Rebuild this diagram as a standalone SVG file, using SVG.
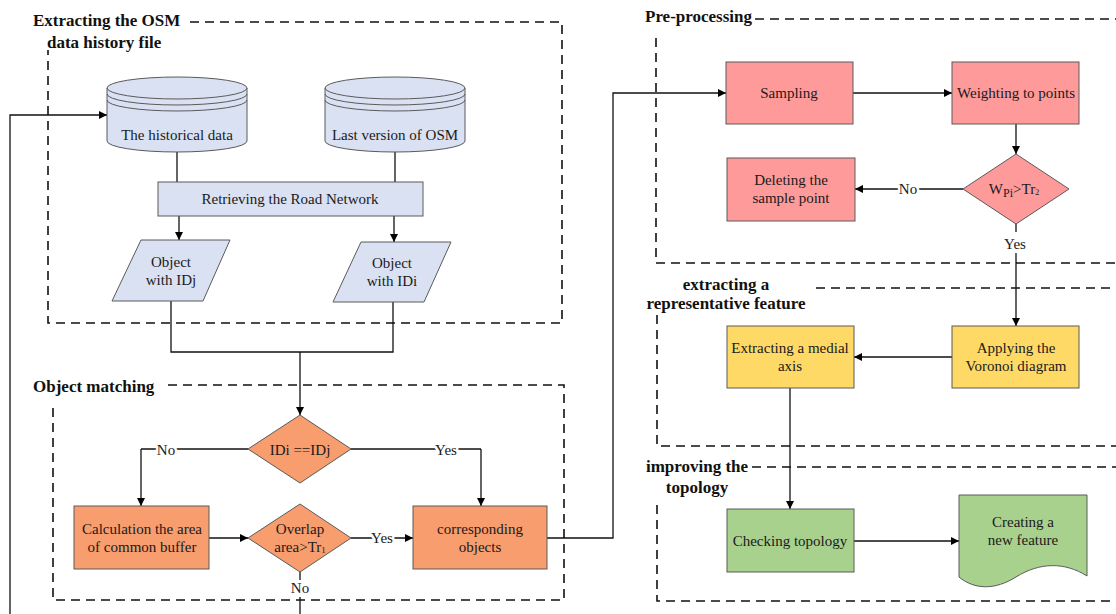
<svg xmlns="http://www.w3.org/2000/svg" width="1116" height="614" viewBox="0 0 1116 614">
<defs>
<marker id="ah" viewBox="0 0 10 10" refX="10" refY="5" markerWidth="8" markerHeight="8" markerUnits="userSpaceOnUse" orient="auto">
<path d="M0,0 L10,5 L0,10 Z" fill="#000"/>
</marker>
<style>
.t{font-family:"Liberation Serif","Times New Roman",serif;font-size:15px;fill:#1a1a1a;text-anchor:middle}
.h{font-family:"Liberation Serif","Times New Roman",serif;font-size:17px;font-weight:bold;fill:#111}
.lb{font-family:"Liberation Serif","Times New Roman",serif;font-size:15px;fill:#1a1a1a;text-anchor:middle;paint-order:stroke;stroke:#fff;stroke-width:5px}
.dash{fill:none;stroke:#111;stroke-width:1.6;stroke-dasharray:9,6}
.blue{fill:#DAE1F2;stroke:#5a5a5a;stroke-width:1}
.org{fill:#F89D6E;stroke:#5a5a5a;stroke-width:1}
.pink{fill:#FF9A9A;stroke:#5a5a5a;stroke-width:1}
.yel{fill:#FFD966;stroke:#5a5a5a;stroke-width:1}
.grn{fill:#A9D18E;stroke:#5a5a5a;stroke-width:1}
.c{fill:none;stroke:#111;stroke-width:1.3}
.ca{fill:none;stroke:#111;stroke-width:1.3;marker-end:url(#ah)}
</style>
</defs>
<rect width="1116" height="614" fill="#fff"/>

<g id="groups">
<path class="dash" d="M190,22 H562 V323 H48 V50"/>
<text class="h" x="33" y="26">Extracting the OSM</text>
<text class="h" x="47" y="48">data history file</text>
<path class="dash" d="M168,385 H564 V600 H53 V403"/>
<text class="h" x="33" y="392">Object matching</text>
<path class="dash" d="M755,19 H1120 M656,38 V263 H1120"/>
<text class="h" x="645" y="22">Pre-processing</text>
<path class="dash" d="M816,288 H1120 M657,315 V446 H1120"/>
<text class="h" x="726" y="290" text-anchor="middle">extracting a</text>
<text class="h" x="726" y="309" text-anchor="middle">representative feature</text>
<path class="dash" d="M752,467 H1120 M657,505 V601 H1120"/>
<text class="h" x="697" y="472" text-anchor="middle">improving the</text>
<text class="h" x="697" y="493" text-anchor="middle">topology</text>
</g>

<g id="connectors">
<path class="c" d="M177,152 V182"/>
<path class="c" d="M395,152 V182"/>
<path class="ca" d="M179,216 V240"/>
<path class="ca" d="M394,216 V242"/>
<path class="c" d="M171,301 V352 H393 V302"/>
<path class="ca" d="M300,352 V415"/>
<path class="c" d="M248,449 H141"/>
<path class="ca" d="M141,449 V506"/>
<path class="c" d="M351,449 H481"/>
<path class="ca" d="M481,449 V506"/>
<path class="ca" d="M209,538 H248"/>
<path class="ca" d="M351,538 H413"/>
<path class="c" d="M300,572 V580 M300,597 V614"/>
<path class="ca" d="M547,538 H613 V93 H726"/>
<path class="ca" d="M10,614 V115 H107"/>
<path class="ca" d="M853,93 H952"/>
<path class="ca" d="M1016,124 V154"/>
<path class="ca" d="M963,189 H855"/>
<path class="c" d="M1016,224 V232"/>
<path class="ca" d="M1016,253 V326"/>
<path class="ca" d="M952,357 H854"/>
<path class="ca" d="M790,388 V509"/>
<path class="ca" d="M854,541 H959"/>
<text class="lb" x="166" y="455">No</text>
<text class="lb" x="446" y="455">Yes</text>
<text class="lb" x="382" y="543">Yes</text>
<text class="t" x="300" y="593">No</text>
<text class="lb" x="908" y="194">No</text>
<text class="t" x="1015" y="249">Yes</text>
</g>

<g id="historical">
<path class="blue" d="M107,88 V141 A70,11 0 0 0 247,141 V88 A70,11 0 0 0 107,88 Z"/>
<path class="c" style="stroke:#5a5a5a;stroke-width:1" d="M107,88 A70,11 0 0 0 247,88 M107,94 A70,11 0 0 0 247,94 M107,100 A70,11 0 0 0 247,100"/>
<text class="t" x="177" y="140">The historical data</text>
</g>
<g id="lastversion">
<path class="blue" d="M325,88 V141 A70,11 0 0 0 465,141 V88 A70,11 0 0 0 325,88 Z"/>
<path class="c" style="stroke:#5a5a5a;stroke-width:1" d="M325,88 A70,11 0 0 0 465,88 M325,94 A70,11 0 0 0 465,94 M325,100 A70,11 0 0 0 465,100"/>
<text class="t" x="395" y="140">Last version of OSM</text>
</g>
<g id="retrieving">
<rect class="blue" x="158" y="182" width="265" height="34"/>
<text class="t" x="290" y="204">Retrieving the Road Network</text>
</g>
<g id="objIDj">
<path class="blue" d="M141,240 H230 L203,301 H112 Z"/>
<text class="t" x="171" y="267">Object</text>
<text class="t" x="171" y="285">with IDj</text>
</g>
<g id="objIDi">
<path class="blue" d="M361,242 H451 L424,302 H333 Z"/>
<text class="t" x="392" y="268">Object</text>
<text class="t" x="392" y="286">with IDi</text>
</g>

<g id="idcompare">
<path class="org" d="M300,415 L351,449 L300,483 L248,449 Z"/>
<text class="t" x="300" y="455">IDi ==IDj</text>
</g>
<g id="calcarea">
<rect class="org" x="74" y="506" width="135" height="63"/>
<text class="t" x="142" y="534">Calculation the area</text>
<text class="t" x="142" y="552">of common buffer</text>
</g>
<g id="overlap">
<path class="org" d="M300,504 L351,538 L300,572 L248,538 Z"/>
<text class="t" x="300" y="534">Overlap</text>
<text class="t" x="300" y="552">area&gt;Tr<tspan font-size="9" dy="1">1</tspan></text>
</g>
<g id="corresponding">
<rect class="org" x="413" y="506" width="134" height="63"/>
<text class="t" x="480" y="534">corresponding</text>
<text class="t" x="480" y="552">objects</text>
</g>

<g id="sampling">
<rect class="pink" x="726" y="62" width="127" height="62"/>
<text class="t" x="789" y="98">Sampling</text>
</g>
<g id="weighting">
<rect class="pink" x="952" y="62" width="127" height="62"/>
<text class="t" x="1016" y="98">Weighting to points</text>
</g>
<g id="wcheck">
<path class="pink" d="M1016,154 L1069,189 L1016,224 L963,189 Z"/>
<text class="t" x="1014" y="194">W<tspan font-size="12" dy="3">Pi</tspan><tspan dy="-3">&gt;Tr</tspan><tspan font-size="8" dy="1">2</tspan></text>
</g>
<g id="deleting">
<rect class="pink" x="727" y="158" width="128" height="63"/>
<text class="t" x="791" y="185">Deleting the</text>
<text class="t" x="791" y="203">sample point</text>
</g>

<g id="medial">
<rect class="yel" x="727" y="326" width="127" height="62"/>
<text class="t" x="790" y="353">Extracting a medial</text>
<text class="t" x="790" y="371">axis</text>
</g>
<g id="voronoi">
<rect class="yel" x="952" y="326" width="127" height="62"/>
<text class="t" x="1016" y="353">Applying the</text>
<text class="t" x="1016" y="371">Voronoi diagram</text>
</g>

<g id="checking">
<rect class="grn" x="727" y="509" width="127" height="63"/>
<text class="t" x="790" y="546">Checking topology</text>
</g>
<g id="newfeature">
<path class="grn" d="M959,495 H1087 V576 C1065,562 1040,562 1016,577 C995,590 975,590 959,577 Z"/>
<text class="t" x="1023" y="527">Creating a</text>
<text class="t" x="1023" y="545">new feature</text>
</g>
</svg>
